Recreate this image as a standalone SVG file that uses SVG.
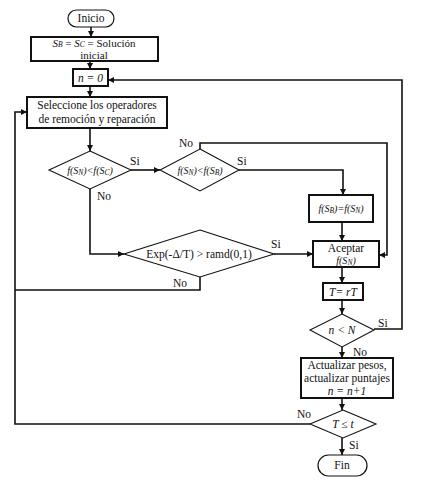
<svg xmlns="http://www.w3.org/2000/svg" width="423" height="496" viewBox="0 0 423 496" font-family="'Liberation Serif', 'Times New Roman', serif">
<defs>
<style>
text{font-family:'Liberation Serif','Times New Roman',serif;font-size:11.5px;fill:#111;text-anchor:middle}
.i{font-style:italic}
.s{font-size:7.5px}
.box{fill:#fff;stroke:#111;stroke-width:2}
.dia{fill:#fff;stroke:#111;stroke-width:1.1}
.term{fill:#fff;stroke:#111;stroke-width:1.2}
.c{fill:none;stroke:#111;stroke-width:1.6}
.lbl{text-anchor:start}
</style>
<marker id="ah" viewBox="0 0 10 10" refX="10" refY="5" markerWidth="6" markerHeight="6" markerUnits="userSpaceOnUse" orient="auto">
<path d="M0,0 L10,5 L0,10 z" fill="#111"/>
</marker>
</defs>
<rect width="423" height="496" fill="#fff"/>
<g id="connectors">
<path class="c" d="M91,27 V37" marker-end="url(#ah)"/>
<path class="c" d="M90,61 V69" marker-end="url(#ah)"/>
<path class="c" d="M90,86 V97" marker-end="url(#ah)"/>
<path class="c" d="M90,128 V151" marker-end="url(#ah)"/>
<path class="c" d="M131,170 H160" marker-end="url(#ah)"/>
<path class="c" d="M200,149 V143 H387 V255 H379" marker-end="url(#ah)"/>
<path class="c" d="M239,170 H343 V195" marker-end="url(#ah)"/>
<path class="c" d="M342,222 V241" marker-end="url(#ah)"/>
<path class="c" d="M90,189 V254 H124" marker-end="url(#ah)"/>
<path class="c" d="M274,254 H313" marker-end="url(#ah)"/>
<path class="c" d="M200,277 V290 H15"/>
<path class="c" d="M310,424 H15 V112 H27" marker-end="url(#ah)" stroke-width="2"/>
<path class="c" d="M342,267 V283" marker-end="url(#ah)"/>
<path class="c" d="M342,300 V314" marker-end="url(#ah)"/>
<path class="c" d="M374,329 H402 V80 H108" marker-end="url(#ah)"/>
<path class="c" d="M342,347 V358" marker-end="url(#ah)"/>
<path class="c" d="M342,398 V410" marker-end="url(#ah)"/>
<path class="c" d="M342,438 V455" marker-end="url(#ah)"/>
</g>
<g id="labels">
<text class="lbl" x="130" y="165">Si</text>
<text class="lbl" x="97" y="200">No</text>
<text class="lbl" x="179" y="147">No</text>
<text class="lbl" x="237" y="165">Si</text>
<text class="lbl" x="271" y="248">Si</text>
<text class="lbl" x="173" y="287">No</text>
<text class="lbl" x="378" y="327">Si</text>
<text class="lbl" x="353" y="356">No</text>
<text class="lbl" x="297" y="418">No</text>
<text class="lbl" x="349" y="449">Si</text>
</g>
<g id="inicio">
<rect class="term" x="68" y="10" width="46" height="17" rx="8.5"/>
<text x="91" y="22">Inicio</text>
</g>
<g id="solucion">
<rect class="box" x="31" y="37" width="127" height="24"/>
<text x="94" y="46.5" style="font-size:11px"><tspan class="i">S</tspan><tspan class="s i">B</tspan> = <tspan class="i">S</tspan><tspan class="s i">C</tspan> = Solución</text>
<text x="94" y="59" style="font-size:11px">inicial</text>
</g>
<g id="n0">
<rect class="box" x="73" y="69" width="35" height="17"/>
<text class="i" x="90.5" y="81.5">n = 0</text>
</g>
<g id="seleccione">
<rect class="box" x="27" y="97" width="140" height="31"/>
<text x="97" y="109">Seleccione los operadores</text>
<text x="97" y="123">de remoción y reparación</text>
</g>
<g id="d1">
<polygon class="dia" points="90,151 131,170 90,189 49,170"/>
<text class="i" x="90" y="173.5" style="font-size:10px">f(S<tspan class="s" baseline-shift="-1">N</tspan>)&lt;f(S<tspan class="s" baseline-shift="-1">C</tspan>)</text>
</g>
<g id="d2">
<polygon class="dia" points="200,149 239,170 200,191 160,170"/>
<text class="i" x="200" y="173.5" style="font-size:10px">f(S<tspan class="s" baseline-shift="-1">N</tspan>)&lt;f(S<tspan class="s" baseline-shift="-1">B</tspan>)</text>
</g>
<g id="fsb">
<rect class="box" x="309" y="195" width="64" height="27"/>
<text class="i" x="341" y="212" style="font-size:10px">f(S<tspan class="s" baseline-shift="-1">B</tspan>)=f(S<tspan class="s" baseline-shift="-1">N</tspan>)</text>
</g>
<g id="exp">
<polygon class="dia" points="200,230 274,254 200,277 124,254"/>
<text x="199" y="258">Exp(-Δ/T) &gt; ramd(0,1)</text>
</g>
<g id="aceptar">
<rect class="box" x="313" y="241" width="66" height="26"/>
<text x="346" y="252">Aceptar</text>
<text class="i" x="346" y="264" style="font-size:10px">f(S<tspan class="s" baseline-shift="-1">N</tspan>)</text>
</g>
<g id="trt">
<rect class="box" x="323" y="283" width="40" height="17"/>
<text class="i" x="343" y="295.5">T= rT</text>
</g>
<g id="nN">
<polygon class="dia" points="342,314 374,330 342,347 310,330"/>
<text class="i" x="342" y="334">n &lt; N</text>
</g>
<g id="actualizar">
<rect class="box" x="301" y="358" width="92" height="40"/>
<text x="347" y="369">Actualizar pesos,</text>
<text x="347" y="382">actualizar puntajes</text>
<text class="i" x="347" y="395">n = n+1</text>
</g>
<g id="Tt">
<polygon class="dia" points="343,410 376,424 343,438 310,424"/>
<text class="i" x="343" y="428">T ≤ t</text>
</g>
<g id="fin">
<rect class="term" x="318" y="455" width="49" height="21" rx="10.5"/>
<text x="342" y="469">Fin</text>
</g>
</svg>
